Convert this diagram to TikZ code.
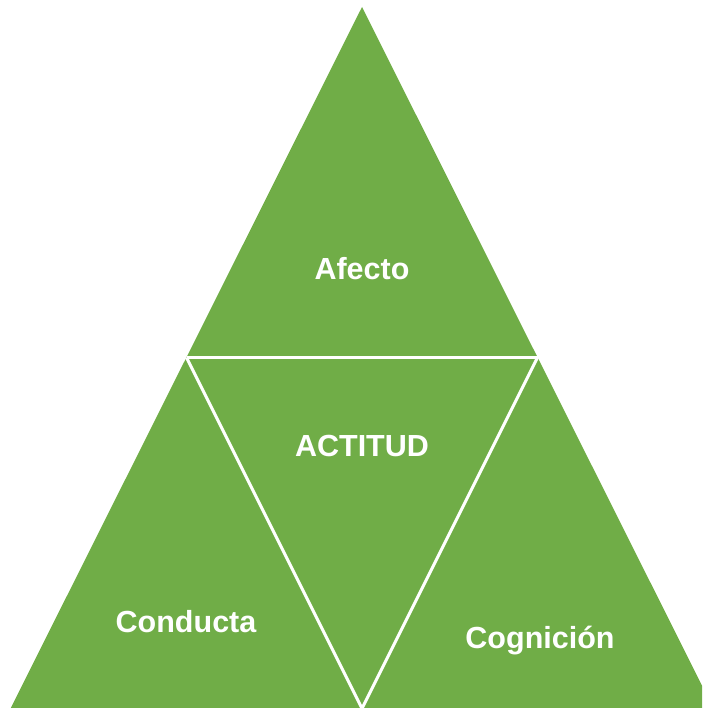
\documentclass[tikz,border=0pt]{standalone}
\usepackage{fontspec}
\setmainfont{Liberation Sans}
\definecolor{officegreen}{HTML}{70AD47}
\begin{document}
\begin{tikzpicture}[x=1pt,y=-1pt,
  lbl/.style={text=white,font=\bfseries\fontsize{30.5}{36}\selectfont,anchor=base,inner sep=0pt},
  sep/.style={draw=white,line width=3pt}]
\useasboundingbox (0,0) rectangle (702,708);
\begin{scope}
\clip (0,0) rectangle (702,708);
\coordinate (apex) at (362,7);
\coordinate (bl) at (10.5,708.5);
\coordinate (br) at (713.5,708.5);
\coordinate (ml) at (186.5,357.5);
\coordinate (mr) at (537.5,357.5);
\coordinate (mb) at (362,708.5);
\fill[officegreen] (apex) -- (bl) -- (br) -- cycle;
\draw[sep] (ml) -- (mr);
\draw[sep] (ml) -- (mb) -- (mr);
\end{scope}
\node[lbl] (afecto) at (362,279) {Afecto};
\node[lbl] (actitud) at (362,456) {ACTITUD};
\node[lbl] (conducta) at (186,632) {Conducta};
\node[lbl] (cognicion) at (540,648) {Cognición};
\end{tikzpicture}
\end{document}
